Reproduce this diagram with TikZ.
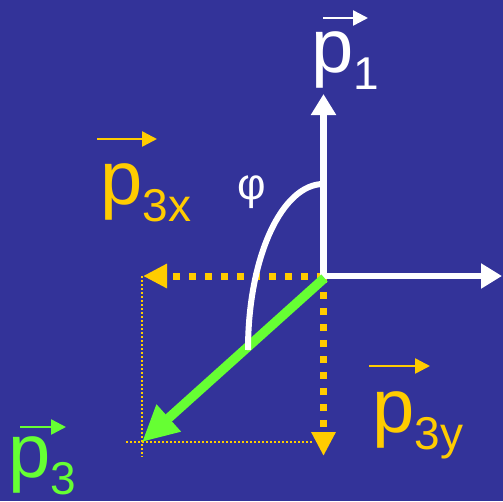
\documentclass[tikz,border=0pt]{standalone}
\usepackage{fontspec}
\setmainfont{Liberation Sans}
\usetikzlibrary{arrows.meta}
\definecolor{bg}{HTML}{333399}
\definecolor{gold}{HTML}{FFCC00}
\definecolor{lime}{HTML}{66FF33}
\tikzset{
  bigp/.style={anchor=base west, inner sep=0pt, font=\fontsize{76}{76}\selectfont},
  vecarrow/.style={line width=2.5pt, -{Triangle[length=15pt,width=15pt]}},
  axis/.style={white, line width=6.5pt, -{Triangle[length=21pt,width=24pt]}},
  comp/.style={gold, line width=7pt, dash pattern=on 7pt off 9pt, -{Triangle[length=24pt,width=23pt]}},
  guide/.style={gold, line width=1.5pt, dash pattern=on 2pt off 2pt},
}
\newcommand{\vsub}[1]{\smash{\raisebox{-17pt}{\fontsize{46}{46}\selectfont #1}}}
\begin{document}
\begin{tikzpicture}[x=1pt,y=-1pt]
\fill[bg] (0,0) rectangle (503,501);
\useasboundingbox (0,0) rectangle (503,501);
\coordinate (O) at (323.5,276);
\coordinate (Yend) at (323.5,94);
\coordinate (Xend) at (502,276);
\coordinate (Xc) at (143,276);
\coordinate (Yc) at (323.5,456);
\coordinate (P3) at (142,442);
\coordinate (Gv) at (142,457);
\coordinate (Gh) at (126,442);
\coordinate (Gr) at (313,442);
\coordinate (ArcTop) at (323.5,184);
\coordinate (ArcEnd) at (248,350);
% guide lines
\draw[guide] (O -| P3) -- (Gv);
\draw[guide] (Gh) -- (Gr);
% components
\draw[comp] (O) -- (Xc);
\draw[comp] (O) -- (Yc);
% axes
\draw[axis] (O) -- (Yend);
\draw[axis] ([xshift=-3.25pt]O) -- (Xend);
% green vector
\draw[lime, line width=9.5pt, -{Triangle[length=36pt,width=34pt]}] ([shift={(1,2)}]O) -- (P3);
% angle arc
\draw[white, line width=6pt] (ArcTop) .. controls (282,184) and (248,257) .. (ArcEnd);
\node[white, inner sep=0pt, font=\fontsize{44}{44}\selectfont] (phi) at (252,192) {φ};
% labels
\node[bigp, white] (p1) at (311,72) {p\vsub{1}};
\node[bigp, gold] (p3x) at (100,204) {p\vsub{3x}};
\node[bigp, gold] (p3y) at (372,432) {p\vsub{3y}};
\node[bigp, lime] (p3) at (8,477) {p\vsub{3}};
% vector arrows over labels
\coordinate (a1s) at (323,18); \coordinate (a1e) at (368,18);
\coordinate (a2s) at (97,139); \coordinate (a2e) at (157,139);
\coordinate (a3s) at (369,366); \coordinate (a3e) at (430,366);
\coordinate (a4s) at (20,427); \coordinate (a4e) at (66,427);
\draw[vecarrow, white] (a1s) -- (a1e);
\draw[vecarrow, gold] (a2s) -- (a2e);
\draw[vecarrow, gold] (a3s) -- (a3e);
\draw[vecarrow, lime] (a4s) -- (a4e);
\end{tikzpicture}
\end{document}
